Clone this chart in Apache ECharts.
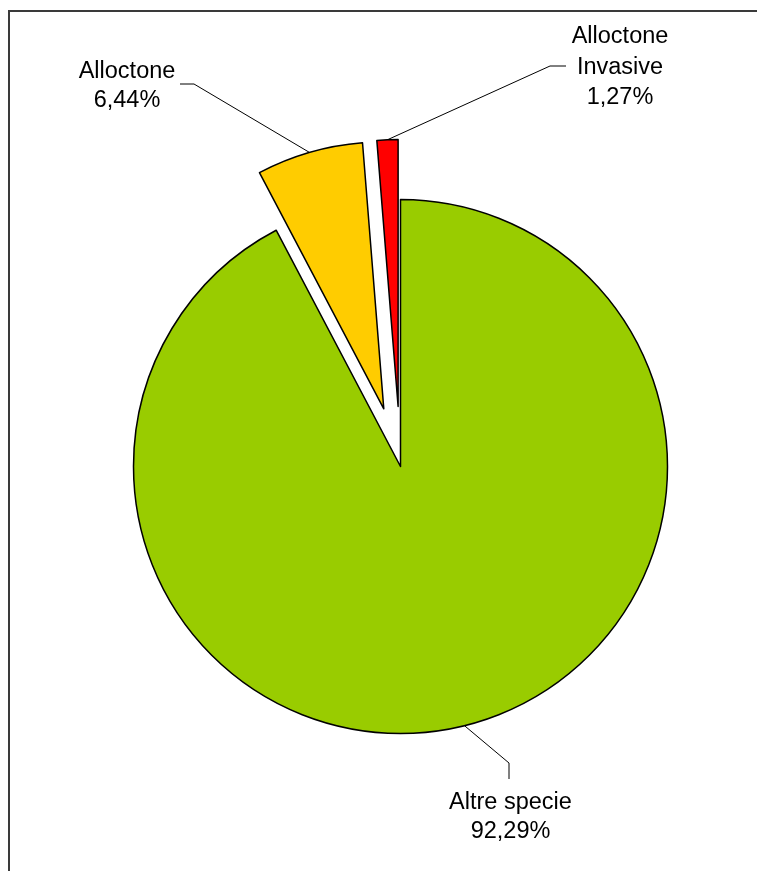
<!DOCTYPE html>
<html>
<head>
<meta charset="utf-8">
<title>Specie alloctone</title>
<script src="https://cdn.jsdelivr.net/npm/echarts@6/dist/echarts.min.js"></script>
<style>
  html, body { margin: 0; padding: 0; background: #fff; }
  #chart { width: 757px; height: 871px; }
</style>
</head>
<body>
<div id="chart"></div>
<script>
// Share of species by group (percent)
const categories = ['Altre specie', 'Alloctone', 'Alloctone Invasive'];
const labelNames = ['Altre specie', 'Alloctone', 'Alloctone\nInvasive'];
const percentages = [92.29, 6.44, 1.27];
const exploded = [false, true, true];
const colors = ['#99CC00', '#FFCC00', '#FF0000'];

// Pie geometry
const CX = 400.5, CY = 466.5, R = 267, OFFSET = 60;

// Label blocks: centre x, middle y, line height, leader elbow and end
const labelBoxes = [
  { x: 510.5, y: 817.5, lh: 29, elbow: [509, 763], end: [509, 779] },
  { x: 127,   y: 86.5,  lh: 29, elbow: [194, 84],  end: [180, 84] },
  { x: 620,   y: 67.5,  lh: 30.5, elbow: [550, 66], end: [566, 66] }
];

const FONT = '23.5px "Liberation Sans", Arial, Helvetica, sans-serif';

function fmt(v) {
  return v.toFixed(2).replace('.', ',') + '%';
}

const total = percentages.reduce((a, b) => a + b, 0);

// Leader start: outer middle of each slice (shifted when exploded)
function leaderStart(i) {
  let before = 0;
  for (let k = 0; k < i; k++) before += percentages[k];
  const midDeg = (before + percentages[i] / 2) / total * 360;
  const a = midDeg * Math.PI / 180;
  const r = R + (exploded[i] ? OFFSET : 0);
  return [CX + r * Math.sin(a), CY - r * Math.cos(a)];
}

const graphics = [
  {
    type: 'rect',
    silent: true,
    shape: { x: 9, y: 11, width: 800, height: 900 },
    style: { fill: 'none', stroke: '#3a3a3a', lineWidth: 2 }
  }
];

categories.forEach((c, i) => {
  const b = labelBoxes[i];
  graphics.push({
    type: 'polyline',
    silent: true,
    shape: { points: [leaderStart(i), b.elbow, b.end] },
    style: { fill: 'none', stroke: '#000', lineWidth: 1 }
  });
  graphics.push({
    type: 'text',
    silent: true,
    x: b.x,
    y: b.y,
    style: {
      text: labelNames[i] + '\n' + fmt(percentages[i]),
      font: FONT,
      fill: '#000',
      align: 'center',
      verticalAlign: 'middle',
      lineHeight: b.lh
    }
  });
});

const chart = echarts.init(document.getElementById('chart'), null, { renderer: 'canvas' });

chart.setOption({
  animation: false,
  backgroundColor: '#ffffff',
  series: [{
    type: 'pie',
    center: [CX, CY],
    radius: R,
    startAngle: 90,
    clockwise: true,
    selectedMode: 'multiple',
    selectedOffset: OFFSET,
    avoidLabelOverlap: false,
    label: { show: false },
    labelLine: { show: false },
    emphasis: { disabled: true },
    itemStyle: { borderColor: '#000', borderWidth: 1.5 },
    select: { itemStyle: { borderColor: '#000', borderWidth: 1.5 } },
    data: categories.map((c, i) => ({
      name: c,
      value: percentages[i],
      selected: exploded[i],
      itemStyle: { color: colors[i] }
    }))
  }],
  graphic: graphics
});
</script>
</body>
</html>
